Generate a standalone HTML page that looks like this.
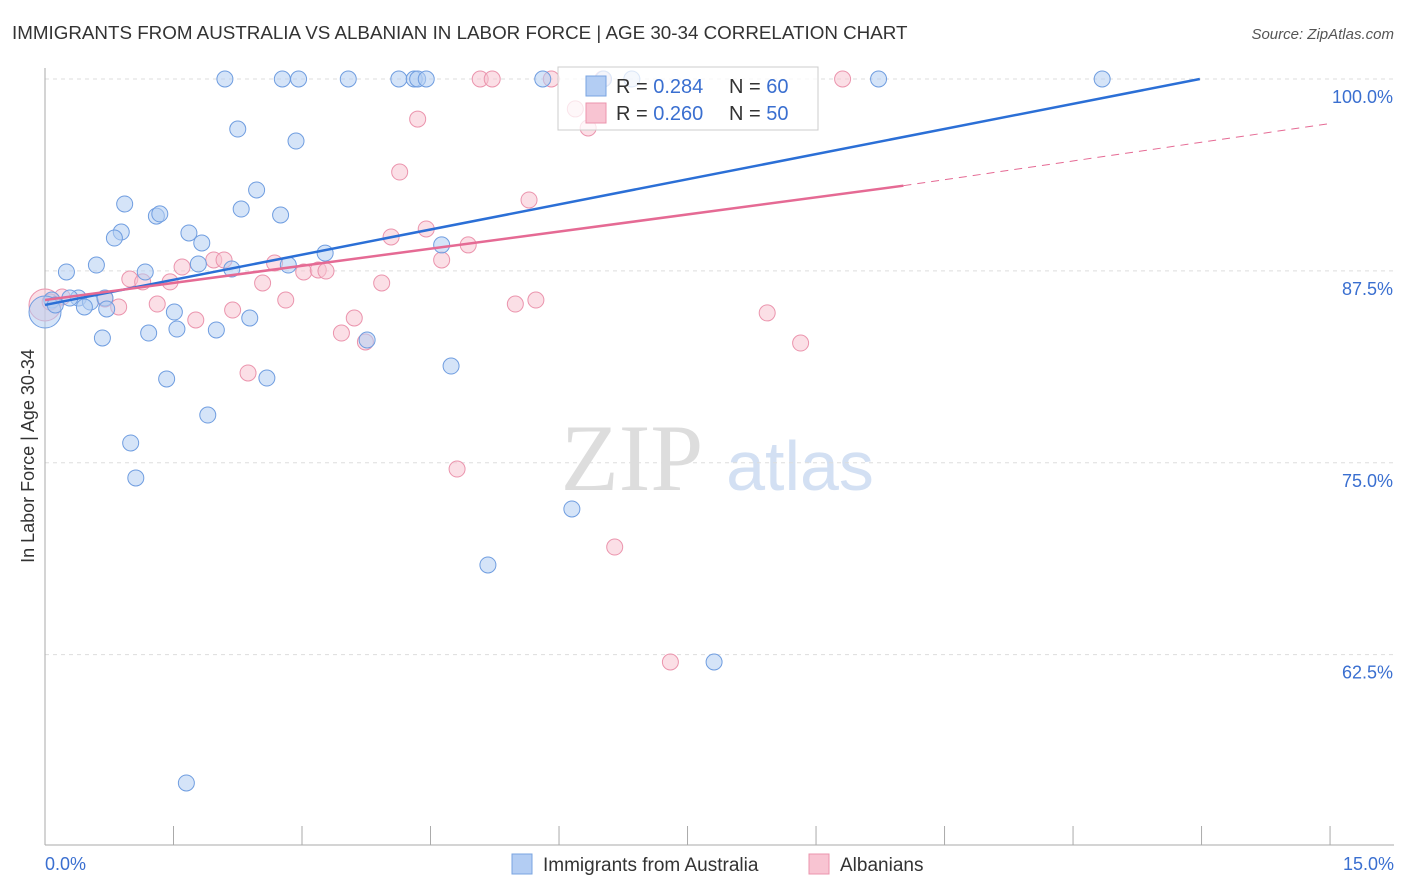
<!DOCTYPE html>
<html><head><meta charset="utf-8">
<style>
body{margin:0;background:#fff;font-family:"Liberation Sans",sans-serif;}
svg{display:block}
</style></head>
<body>
<svg id="chart" width="1406" height="892" viewBox="0 0 1406 892" xmlns="http://www.w3.org/2000/svg">
<text x="12" y="39" font-size="18.8" fill="#333">IMMIGRANTS FROM AUSTRALIA VS ALBANIAN IN LABOR FORCE | AGE 30-34 CORRELATION CHART</text>
<text x="1394" y="39" font-size="15" fill="#555" font-style="italic" text-anchor="end">Source: ZipAtlas.com</text>
<g>
<text x="632" y="490" font-size="95" fill="#ddd" font-family="Liberation Serif" text-anchor="middle">ZIP</text>
<text x="800" y="490" font-size="70" fill="#d3e0f3" text-anchor="middle">atlas</text>
</g>
<g id="grid"></g>
<g id="axes"></g>
<g id="pink"></g>
<g id="blue"></g>
<g id="lines"></g>
<g>
<rect x="558" y="67" width="260" height="63" fill="#fff" fill-opacity="0.75" stroke="#ccc"/>
<rect x="586" y="76" width="20" height="20" fill="#b3cdf3" stroke="#7aa4e0"/>
<rect x="586" y="103" width="20" height="20" fill="#f8c4d2" stroke="#eb94ad"/>
<text x="616" y="93" font-size="20" fill="#333">R = <tspan fill="#3a6fd0">0.284</tspan></text>
<text x="729" y="93" font-size="20" fill="#333">N = <tspan fill="#3a6fd0">60</tspan></text>
<text x="616" y="120" font-size="20" fill="#333">R = <tspan fill="#3a6fd0">0.260</tspan></text>
<text x="729" y="120" font-size="20" fill="#333">N = <tspan fill="#3a6fd0">50</tspan></text>
</g>
<g>
<rect x="512" y="854" width="20" height="20" fill="#b3cdf3" stroke="#7aa4e0"/>
<text x="543" y="871" font-size="19" fill="#333">Immigrants from Australia</text>
<rect x="809" y="854" width="20" height="20" fill="#f8c4d2" stroke="#eb94ad"/>
<text x="840" y="871" font-size="19" fill="#333">Albanians</text>
</g>
<text x="0" y="0" font-size="18" fill="#333" text-anchor="middle" transform="translate(34,456) rotate(-90)">In Labor Force | Age 30-34</text>
</svg>
<script>
const blueX=[2.10,2.77,2.96,3.54,4.13,4.31,4.35,4.45,5.81,6.52,6.85,9.73,12.34,2.25,2.93,0.93,2.47,2.29,2.75,1.30,1.34,0.89,0.81,1.68,1.83,3.27,4.63,0.25,0.60,1.17,1.79,2.18,2.84,0.08,0.39,0.53,0.70,0.46,0.72,1.51,2.39,1.21,1.54,2.00,0.67,3.76,1.42,2.59,4.74,1.90,1.00,1.06,6.15,5.17,7.81,1.65,0,0.12,0.29];
const blueY=[100,100,100,100,100,100,100,100,100,100,100,100,100,96.74,95.96,91.86,92.77,91.53,91.14,91.07,91.21,90.03,89.64,89.97,89.32,88.66,89.19,87.43,87.88,87.43,87.95,87.62,87.88,85.60,85.73,85.47,85.73,85.15,85.02,84.82,84.43,83.45,83.71,83.65,83.13,83.00,80.46,80.52,81.30,78.11,76.29,74.01,71.99,68.34,62.02,54.14,84.82,85.28,85.73];
const pinkX=[5.08,5.22,5.91,6.51,9.31,6.19,6.34,4.35,4.14,5.65,4.45,4.04,4.94,4.63,2.68,3.02,3.19,3.28,1.60,1.97,2.09,0.99,1.46,2.54,3.93,1.14,2.81,1.31,0.70,0.86,0.20,2.19,1.76,3.61,5.49,5.73,8.43,3.46,3.74,8.82,2.37,4.81,6.65,7.30,0,0.06];
const pinkY=[100,100,100,100,100,98.05,96.81,97.39,93.94,92.12,90.23,89.71,89.19,88.21,88.01,87.43,87.56,87.49,87.75,88.21,88.21,86.97,86.78,86.71,86.71,86.78,85.60,85.34,85.67,85.15,85.80,84.95,84.30,84.43,85.34,85.60,84.76,83.45,82.87,82.80,80.85,74.59,69.51,62.02,85.28,85.47];
const blueTrend=[0,85.28,13.48,100];
const pinkTrend=[0,85.6,10.02,93.05,15,97.1];
const yTicks=[100,87.5,75,62.5];
const yTickLabels=["100.0%","87.5%","75.0%","62.5%"];
const xTicks=[0,1.5,3,4.5,6,7.5,9,10.5,12,13.5,15];
const NS="http://www.w3.org/2000/svg";
const sx=v=>45+v*85.67, sy=v=>79+(100-v)*15.35;
function mk(tag,attrs,parent){const e=document.createElementNS(NS,tag);for(const k in attrs)e.setAttribute(k,attrs[k]);parent.appendChild(e);return e;}
const grid=document.getElementById('grid'),axes=document.getElementById('axes');
yTicks.forEach((t,i)=>{
 const l=mk('line',{x1:45,x2:1394,y1:sy(t),y2:sy(t),stroke:'#ddd','stroke-dasharray':'4,4'},grid);
 
 
 const tx=mk('text',{x:1393,y:sy(t)+24,'font-size':18,fill:'#3a6fd0','text-anchor':'end'},axes);
 tx.textContent=yTickLabels[i];
 
 
});
mk('line',{x1:45,x2:1394,y1:845,y2:845,stroke:'#aaa'},axes);
mk('line',{x1:45,x2:45,y1:68,y2:845,stroke:'#aaa'},axes);
xTicks.forEach(t=>{
 const l=mk('line',{x1:sx(t),x2:sx(t),y1:826,y2:845,stroke:'#aaa'},axes);
 
 
});
const x0=mk('text',{x:45,y:870,'font-size':18,fill:'#3a6fd0'},axes);x0.textContent='0.0%';


const x1=mk('text',{x:1394,y:870,'font-size':18,fill:'#3a6fd0','text-anchor':'end'},axes);x1.textContent='15.0%';


function dots(X,Y,g,fill,stroke,name){
 X.forEach((x,i)=>{
  const big=(x===0);
  const c=mk('circle',{cx:sx(x),cy:sy(Y[i]),r:big?16:8,fill:fill,'fill-opacity':0.55,stroke:stroke,'stroke-width':1},g);
  
  
 });
}
dots(pinkX,pinkY,document.getElementById('pink'),'#f8c4d2','#eb94ad','albanians-point');
dots(blueX,blueY,document.getElementById('blue'),'#b3cdf3','#6f9de0','australia-point');
const lg=document.getElementById('lines');
const bl=mk('line',{x1:sx(blueTrend[0]),y1:sy(blueTrend[1]),x2:sx(blueTrend[2]),y2:sy(blueTrend[3]),stroke:'#2b6fd6','stroke-width':2.5},lg);


const pl=mk('line',{x1:sx(pinkTrend[0]),y1:sy(pinkTrend[1]),x2:sx(pinkTrend[2]),y2:sy(pinkTrend[3]),stroke:'#e56a94','stroke-width':2.5},lg);


const pd=mk('line',{x1:sx(pinkTrend[2]),y1:sy(pinkTrend[3]),x2:sx(pinkTrend[4]),y2:sy(pinkTrend[5]),stroke:'#e56a94','stroke-width':1,'stroke-dasharray':'8,6'},lg);


</script>
</body></html>
